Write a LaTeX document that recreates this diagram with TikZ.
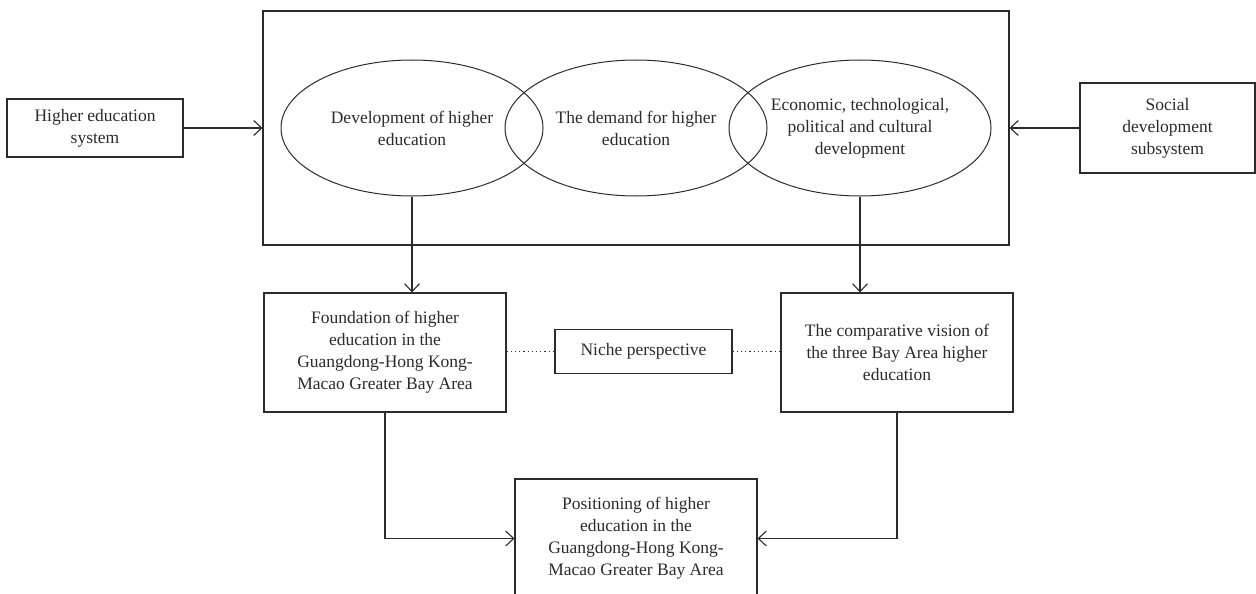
\documentclass[tikz,border=0pt]{standalone}
\usepackage{fontspec}
\setmainfont{Liberation Serif}
\usepackage{xcolor}
\usetikzlibrary{arrows.meta,positioning,shapes.geometric}
\definecolor{inkgray}{HTML}{2B2B2B}
\newcommand{\bayoval}[3]{
    \node[
        ellipse,
        draw=inkgray,
        line width=1pt,
        minimum width=262pt,
        minimum height=136pt,
        inner sep=0pt
    ] (#1) at (#2,128) {};
    \node[ovaltext] at (#1.center) {#3};
}

\begin{document}
\begin{tikzpicture}[x=1pt,y=-1pt,>={Straight Barb[length=8pt,width=15pt]},
    bayfont/.style={font=\fontsize{17.5}{22}\selectfont, text=inkgray},
    flowbox/.style={draw=inkgray, line width=1.1pt, inner sep=0pt, align=center, bayfont},
    ovaltext/.style={align=center, inner sep=0pt, bayfont},
    link/.style={draw=inkgray, line width=1.1pt},
    nichelink/.style={draw=inkgray, line width=1.2pt, dash pattern=on 1.2pt off 3pt}]
    \clip (0,0) rectangle (1256,594);

    % outer frame holding the three ovals
    \node[flowbox, minimum width=746pt, minimum height=234pt] (ovalframe) at (636,128) {};
    \bayoval{develop}{412}{Development of higher\\education}
    \bayoval{demand}{636}{The demand for higher\\education}
    \bayoval{society}{860}{Economic, technological,\\political and cultural\\development}

    % side inputs
    \node[flowbox, minimum width=176pt, minimum height=58pt] (highsys) at (95,128) {Higher education\\system};
    \node[flowbox, minimum width=175pt, minimum height=90pt] (socsys) at (1167.5,128) {Social\\development\\subsystem};

    % middle row
    \node[flowbox, minimum width=242pt, minimum height=119pt] (foundation) at (385,352.5) {Foundation of higher\\education in the\\Guangdong-Hong Kong-\\Macao Greater Bay Area};
    \node[flowbox, minimum width=232pt, minimum height=119pt] (compare) at (897,352.5) {The comparative vision of\\the three Bay Area higher\\education};
    \node[flowbox, minimum width=177pt, minimum height=44pt] (niche) at (643.5,351.5) {Niche perspective};

    % result
    \node[flowbox, minimum width=242pt, minimum height=119pt] (position) at (636,538.5) {Positioning of higher\\education in the\\Guangdong-Hong Kong-\\Macao Greater Bay Area};

    \draw[link,->] (highsys) -- (ovalframe.west);
    \draw[link,->] (socsys) -- (ovalframe.east);
    \draw[link,->] (develop.south) -- (develop.south |- foundation.north);
    \draw[link,->] (society.south) -- (society.south |- compare.north);
    \draw[nichelink] (foundation.east |- niche.west) -- (niche.west);
    \draw[nichelink] (niche.east) -- (niche.east -| compare.west);
    \draw[link,->] (foundation.south) |- (position.west);
    \draw[link,->] (compare.south) |- (position.east);
\end{tikzpicture}
\end{document}
